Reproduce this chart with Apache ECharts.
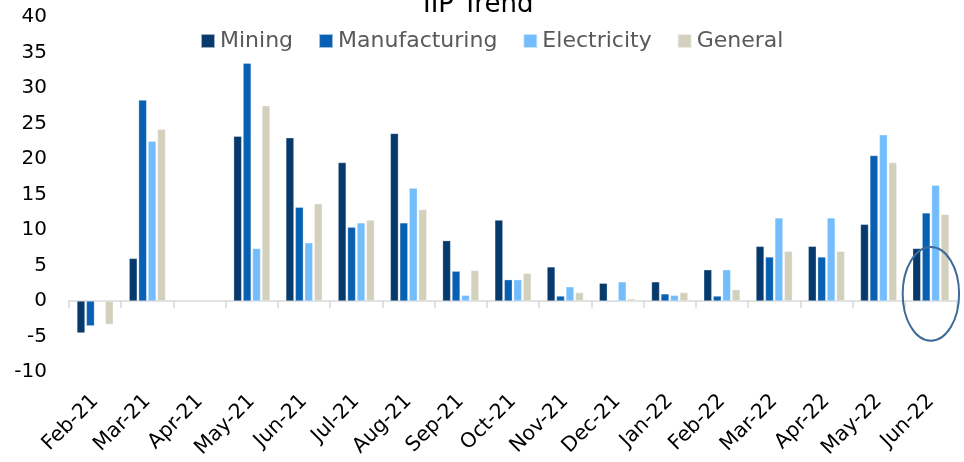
<!DOCTYPE html>
<html>
<head>
<meta charset="utf-8">
<script src="https://cdn.jsdelivr.net/npm/echarts@6/dist/echarts.min.js"></script>
<style>html,body{margin:0;padding:0;background:#fff}#c{width:964px;height:462px}</style>
</head>
<body>
<div id="c"></div>
<script>
var categories = ['Feb-21','Mar-21','Apr-21','May-21','Jun-21','Jul-21','Aug-21','Sep-21','Oct-21','Nov-21','Dec-21','Jan-22','Feb-22','Mar-22','Apr-22','May-22','Jun-22'];
var mining        = [-4.5, 6.0, null, 23.2, 23.0, 19.5, 23.6, 8.5, 11.4, 4.8, 2.5, 2.7, 4.4, 7.7, 7.7, 10.8, 7.4];
var manufacturing = [-3.5, 28.3, null, 33.5, 13.2, 10.4, 11.0, 4.2, 3.0, 0.7, -0.1, 1.0, 0.7, 6.2, 6.2, 20.5, 12.4];
var electricity   = [0.1, 22.5, null, 7.4, 8.2, 11.0, 15.9, 0.8, 3.0, 2.0, 2.7, 0.8, 4.4, 11.7, 11.7, 23.4, 16.3];
var general       = [-3.3, 24.2, null, 27.5, 13.7, 11.4, 12.9, 4.3, 3.9, 1.2, 0.3, 1.2, 1.6, 7.0, 7.0, 19.5, 12.2];
var yTicks = {min: -10, max: 40, interval: 5};

var font = 'DejaVu Sans, sans-serif';
var chart = echarts.init(document.getElementById('c'));
function bar(name, data, color) {
  return {
    name: name, type: 'bar', data: data, xAxisIndex: 0,
    barWidth: 8, barGap: '18%',
    itemStyle: {color: color, borderColor: 'rgba(255,255,255,0.6)', borderWidth: 0.5}
  };
}
chart.setOption({
  animation: false,
  title: {
    text: 'IIP Trend', left: 418, top: -13,
    textStyle: {fontFamily: font, fontSize: 26, fontWeight: 'normal', color: '#000'}
  },
  legend: {
    top: 25, left: 195,
    itemWidth: 14, itemHeight: 14, itemGap: 25,
    icon: 'rect',
    textStyle: {fontFamily: font, fontSize: 22, color: '#595959'},
    data: ['Mining','Manufacturing','Electricity','General']
  },
  grid: {left: 69, right: 7, top: 17, bottom: 90},
  xAxis: [
    {
      type: 'category', data: categories,
      axisLine: {onZero: true, lineStyle: {color: '#d9d9d9', width: 1.5}},
      axisTick: {show: true, length: 7, lineStyle: {color: '#d9d9d9', width: 1.5}},
      axisLabel: {show: false}
    },
    {
      type: 'category', data: categories, position: 'bottom',
      axisLine: {show: false, onZero: false},
      axisTick: {show: false},
      axisLabel: {rotate: 45, margin: 26, fontFamily: font, fontSize: 20.5, color: '#000', interval: 0}
    }
  ],
  yAxis: {
    type: 'value', min: yTicks.min, max: yTicks.max, interval: yTicks.interval,
    splitLine: {show: false},
    axisLine: {show: false}, axisTick: {show: false},
    axisLabel: {margin: 22, fontFamily: font, fontSize: 20, color: '#000'}
  },
  series: [
    bar('Mining', mining, '#063a6c'),
    bar('Manufacturing', manufacturing, '#0760b2'),
    bar('Electricity', electricity, '#73bdfd'),
    bar('General', general, '#d3d0be')
  ]
});
var center = chart.convertToPixel({xAxisIndex: 0, yAxisIndex: 0}, ['Jun-22', 1]);
var top6 = chart.convertToPixel({xAxisIndex: 0, yAxisIndex: 0}, ['Jun-22', 7.6]);
var prev = chart.convertToPixel({xAxisIndex: 0, yAxisIndex: 0}, ['May-22', 1]);
var ry = center[1] - top6[1];
var rx = (center[0] - prev[0]) * 0.54;
chart.setOption({
  graphic: [{
    type: 'ellipse', shape: {cx: center[0], cy: center[1], rx: rx, ry: ry},
    style: {fill: 'none', stroke: '#3e6a9a', lineWidth: 2}, z: 100
  }]
});
</script>
</body>
</html>
